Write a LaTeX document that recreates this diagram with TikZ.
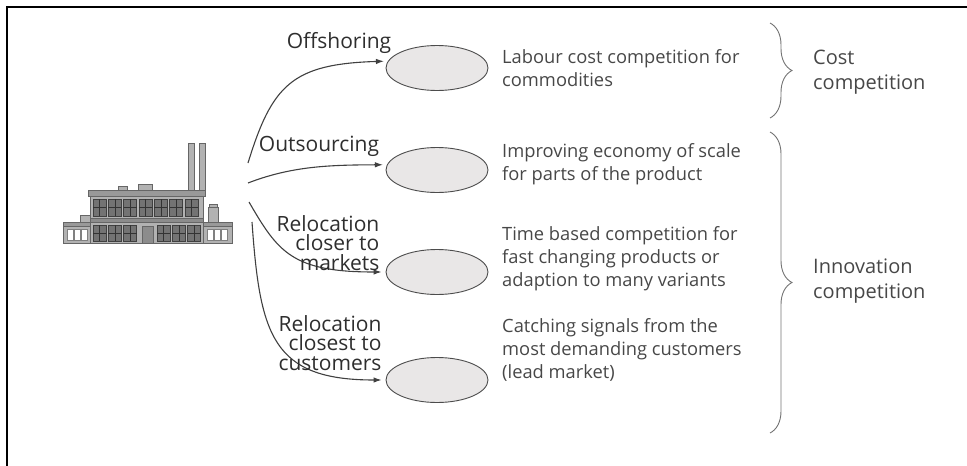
\documentclass[tikz,border=0pt]{standalone}
\usepackage{fontspec}
\setmainfont{Open Sans}
\usepackage{tikz}
\usetikzlibrary{arrows.meta, positioning, shapes.geometric, decorations.pathreplacing}

\definecolor{txtgray}{HTML}{474747}
\definecolor{ellfill}{HTML}{E9E7E7}

\tikzset{
  ell/.style={ellipse, draw=black!70, fill=ellfill, line width=0.9pt, minimum width=102pt, minimum height=45pt, inner sep=0pt},
  route/.style={draw=black!75, line width=1.1pt, -{Latex[length=8pt,width=5.5pt]}, shorten >=4pt},
  desc/.style={anchor=west, align=left, text=txtgray, font=\fontsize{18.3}{23}\selectfont, inner sep=0pt},
  grptxt/.style={desc, font=\fontsize{20}{25}\selectfont},
  lbl/.style={align=right, text=black!82, font=\fontsize{21}{19.5}\selectfont, inner sep=0pt},
  grp/.style={decorate, decoration={brace, amplitude=22pt}, draw=black!55, line width=0.9pt},
  bldg/.style={fill=black!30, draw=black!60, line width=0.6pt},
  win/.style={fill=black!55, draw=black!75, line width=0.5pt}
}

\begin{document}
\begin{tikzpicture}[x=1pt, y=-1pt]
  \useasboundingbox (0,0) rectangle (967,466);

  % frame (top and left only)
  \draw[line width=2pt] (967,7) -- (7,7) -- (7,466);

  % Factory
  \draw[bldg] (188,143) rectangle (194,194);
  \draw[bldg] (199,143) rectangle (205,194);
  \draw[bldg] (118,186) rectangle (127,192);
  \draw[bldg] (138,184) rectangle (152,192);
  \draw[bldg] (80,215) rectangle (90,222);
  \draw[bldg] (208,207) rectangle (218,222);
  \draw[bldg] (209,204) rectangle (217,207);
  \draw[bldg] (63,222) rectangle (90,243);
  \draw[bldg] (203,222) rectangle (232,243);
  \draw[bldg,fill=black!40] (63,222) rectangle (90,226);
  \draw[bldg,fill=black!40] (203,222) rectangle (232,226);
  \foreach \x in {67,74,81} {
    \draw[fill=white, draw=black!50, line width=0.4pt] (\x,229) rectangle (\x+6,240);
  }
  \foreach \x in {207,214,221} {
    \draw[fill=white, draw=black!50, line width=0.4pt] (\x,229) rectangle (\x+6,240);
  }
  \draw[bldg] (90,192) rectangle (203,243);
  \draw[bldg,fill=black!40] (88,190) rectangle (205,196);
  \draw[bldg,fill=black!45] (90,218) rectangle (203,222);
  % windows, upper row
  \foreach \i in {0,...,6} {
    \draw[win] (93+\i*15.3,199) rectangle (106+\i*15.3,216);
    \draw[black!80, line width=0.4pt] (99.5+\i*15.3,199) -- (99.5+\i*15.3,216);
    \draw[black!80, line width=0.4pt] (93+\i*15.3,207.5) -- (106+\i*15.3,207.5);
  }
  % windows, lower row
  \foreach \x in {93,108.3,123.6,157,172.3,187.6} {
    \draw[win] (\x,225) rectangle (\x+13,241);
    \draw[black!80, line width=0.4pt] (\x+6.5,225) -- (\x+6.5,241);
    \draw[black!80, line width=0.4pt] (\x,233) -- (\x+13,233);
  }
  \draw[bldg,fill=black!45] (142,226) rectangle (153,243);

  % start points at the factory
  \coordinate (f1) at (248,163);
  \coordinate (f2) at (248,183);
  \coordinate (f3) at (249,202);
  \coordinate (f4) at (252,222);

  % ellipses
  \node[ell] (off) at (437,68) {};
  \node[ell] (out) at (437,170) {};
  \node[ell] (clo) at (437,272) {};
  \node[ell] (cst) at (437,380) {};

  % routes
  \draw[route] (f1) .. controls (272,85) and (292,64) .. (off.172);
  \draw[route] (f2) .. controls (292,166) and (330,165) .. (out.174);
  \draw[route] (f3) .. controls (278,252) and (292,272) .. (clo.west);
  \draw[route] (f4) .. controls (260,335) and (272,380) .. (cst.west);

  \node[lbl] (loff) at (339,43) {Offshoring};
  \node[lbl] (lout) at (319,146) {Outsourcing};
  \node[lbl] (lclo) at (328,243) {Relocation\\closer to\\markets};
  \node[lbl] (lcst) at (330,343) {Relocation\\closest to\\customers};

  % descriptions
  \node[desc] (doff) at (502,68) {Labour cost competition for\\commodities};
  \node[desc] (dout) at (502,164) {Improving economy of scale\\for parts of the product};
  \node[desc] (dclo) at (502,259) {Time based competition for\\fast changing products or\\adaption to many variants};
  \node[desc] (dcst) at (502,350) {Catching signals from the\\most demanding customers\\(lead market)};

  % groups
  \draw[grp] (770,23) -- (770,118);
  \draw[grp] (770,132) -- (770,433);
  \node[grptxt] (gcost) at (813,72) {Cost\\competition};
  \node[grptxt] (ginno) at (813,281) {Innovation\\competition};
\end{tikzpicture}
\end{document}
